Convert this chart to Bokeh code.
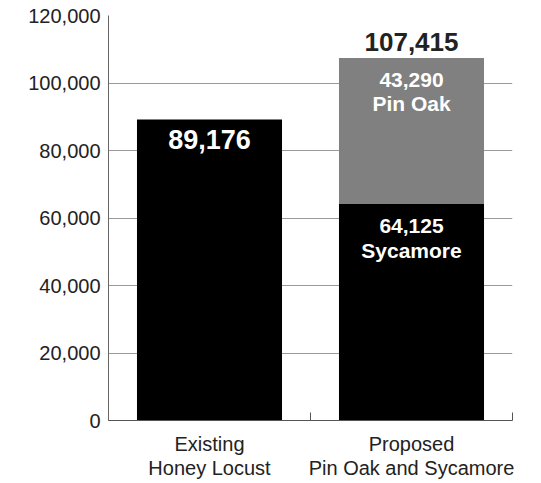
from bokeh.plotting import figure
from bokeh.models import Range1d, FixedTicker, NumeralTickFormatter, ColumnDataSource, LabelSet
from bokeh.core.properties import value
from bokeh.embed import file_html
from bokeh.resources import INLINE

# ---- data ----
categories = ["Existing\nHoney Locust", "Proposed\nPin Oak and Sycamore"]
base_values = [89176, 64125]        # black segment (Honey Locust / Sycamore)
upper_values = [0, 43290]           # gray segment (Pin Oak)
base_names = ["", "Sycamore"]
upper_names = ["", "Pin Oak"]
y_ticks = [0, 20000, 40000, 60000, 80000, 100000, 120000]

FONT = "Liberation Sans"

xs = [i + 0.5 for i in range(len(categories))]
totals = [b + u for b, u in zip(base_values, upper_values)]

p = figure(width=541, height=483, output_backend="svg", toolbar_location=None,
           x_range=Range1d(0, len(categories)), y_range=Range1d(y_ticks[0], y_ticks[-1]),
           min_border_left=108, min_border_right=29, min_border_top=15, min_border_bottom=63)
p.outline_line_color = None
p.background_fill_color = "white"
p.border_fill_color = "white"

# bars
p.vbar(x=xs, width=0.718, bottom=0, top=base_values, fill_color="black", line_color=None)
up_x = [x for x, u in zip(xs, upper_values) if u > 0]
up_b = [b for b, u in zip(base_values, upper_values) if u > 0]
up_t = [t for t, u in zip(totals, upper_values) if u > 0]
p.vbar(x=up_x, width=0.718, bottom=up_b, top=up_t, fill_color="#808080", line_color=None)

# axes
p.xgrid.grid_line_color = None
p.ygrid.grid_line_color = "#9a9a9a"
p.ygrid.grid_line_width = 1
p.yaxis.ticker = FixedTicker(ticks=y_ticks)
p.yaxis.formatter = NumeralTickFormatter(format="0,0")
p.yaxis.major_tick_in = 0
p.yaxis.major_tick_out = 0
p.yaxis.minor_tick_line_color = None
p.yaxis.axis_line_color = "#666666"
p.yaxis.major_label_standoff = 8
p.yaxis.major_label_text_font = FONT
p.yaxis.major_label_text_font_size = "20px"
p.yaxis.major_label_text_color = "#222222"

p.xaxis.ticker = FixedTicker(ticks=xs, minor_ticks=list(range(len(categories) + 1)))
p.xaxis.major_label_overrides = {x: c for x, c in zip(xs, categories)}
p.xaxis.major_tick_line_color = None
p.xaxis.major_tick_in = 0
p.xaxis.major_tick_out = 0
p.xaxis.minor_tick_in = 8
p.xaxis.minor_tick_out = 0
p.xaxis.minor_tick_line_color = "#555555"
p.xaxis.axis_line_color = "#555555"
p.xaxis.major_label_standoff = 12
p.xaxis.major_label_text_font = FONT
p.xaxis.major_label_text_font_size = "20px"
p.xaxis.major_label_text_color = "#222222"
p.xaxis.major_label_text_line_height = 1.12


def add_labels(xv, yv, texts, y_offset, color, size):
    src = ColumnDataSource(dict(x=xv, y=yv, t=texts))
    p.add_layout(LabelSet(x="x", y="y", text="t", source=src, y_offset=y_offset,
                          text_align="center", text_baseline="middle", text_color=color,
                          text_font=value(FONT), text_font_style="bold",
                          text_font_size=size))


# totals inside the single bar
single = [i for i, u in enumerate(upper_values) if u == 0]
add_labels([xs[i] for i in single], [totals[i] for i in single],
           [f"{totals[i]:,}" for i in single], -20, "white", "27px")

# totals above stacked bars
stacked = [i for i, u in enumerate(upper_values) if u > 0]
add_labels([xs[i] for i in stacked], [totals[i] for i in stacked],
           [f"{totals[i]:,}" for i in stacked], 16, "#222222", "26px")

# segment values and names
add_labels([xs[i] for i in stacked] * 2,
           [totals[i] for i in stacked] + [base_values[i] for i in stacked],
           [f"{upper_values[i]:,}" for i in stacked] + [f"{base_values[i]:,}" for i in stacked],
           -22, "white", "21px")
add_labels([xs[i] for i in stacked] * 2,
           [totals[i] for i in stacked] + [base_values[i] for i in stacked],
           [upper_names[i] for i in stacked] + [base_names[i] for i in stacked],
           -46, "white", "21px")

open("out.html", "w").write(file_html(p, INLINE))
